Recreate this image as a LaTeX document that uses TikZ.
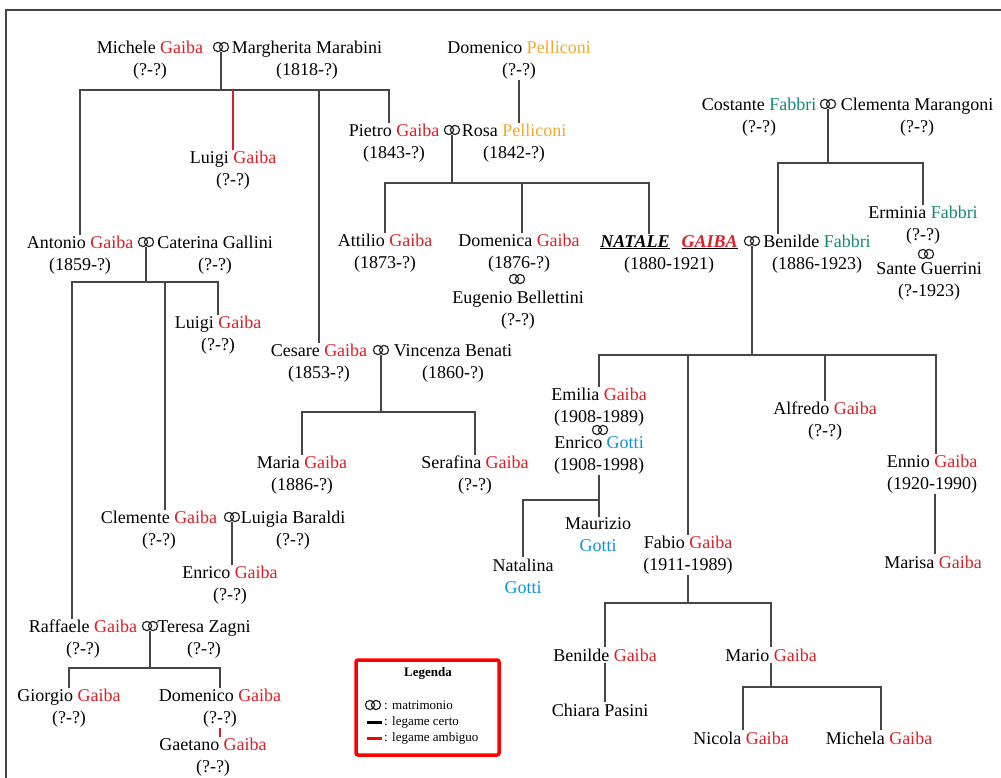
\documentclass[tikz,border=0pt]{standalone}
\usepackage{fontspec}
\setmainfont{Liberation Serif}
\usepackage{xcolor}
\usepackage{tikz}
\usetikzlibrary{positioning}
\definecolor{cgaiba}{RGB}{218,32,40}
\definecolor{cpelliconi}{RGB}{243,168,46}
\definecolor{cfabbri}{RGB}{22,136,118}
\definecolor{cgotti}{RGB}{16,146,214}
\definecolor{linea}{RGB}{70,70,70}
\newcommand{\Gaiba}{\textcolor{cgaiba}{Gaiba}}
\newcommand{\Pelliconi}{\textcolor{cpelliconi}{Pelliconi}}
\newcommand{\Fabbri}{\textcolor{cfabbri}{Fabbri}}
\newcommand{\Gotti}{\textcolor{cgotti}{Gotti}}
% simbolo del matrimonio: nodo vuoto + due anelli
\newcommand{\anelli}[2]{%
  \node[coppia] (#1) at (#2) {};
  \draw[anello] ([xshift=-3pt]#1.center) circle (4.6pt)
                ([xshift=3pt]#1.center) circle (4.6pt);}

\begin{document}
\begin{tikzpicture}[
  x=1pt, y=-1pt,
  font=\fontsize{18}{22}\selectfont,
  persona/.style={align=center, inner sep=1pt},
  coppia/.style={inner sep=0pt, minimum width=16pt, minimum height=10pt},
  anello/.style={draw=black!85, line width=1.2pt},
  legame/.style={draw=linea, line width=1.4pt},
  ambiguo/.style={draw=cgaiba, line width=1.1pt},
  voce/.style={font=\fontsize{13}{15}\selectfont, anchor=west, inner sep=0pt},
]
\useasboundingbox (0,0) rectangle (1001,778);
\draw[linea, line width=1.5pt] (1001,10) -- (6,10) -- (6,778);
% --- Prima generazione ------------------------------------------------------
\node[persona] (michele) at (150,60) {Michele \Gaiba\\(?-?)};
\anelli{m1}{221,47}
\node[persona] (margherita) at (307,60) {Margherita Marabini\\(1818-?)};
\node[persona] (domenicoP) at (519,60) {Domenico \Pelliconi\\(?-?)};
\node[persona] (costante) at (759,117) {Costante \Fabbri\\(?-?)};
\anelli{m3}{828,104}
\node[persona] (clementa) at (917,117) {Clementa Marangoni\\(?-?)};
% --- Figli di Michele -------------------------------------------------------
\node[persona] (pietro) at (394,143) {Pietro \Gaiba\\(1843-?)};
\anelli{m2}{452,130}
\node[persona] (rosa) at (514,143) {Rosa \Pelliconi\\(1842-?)};
\node[persona] (luigiA) at (233,170) {Luigi \Gaiba\\(?-?)};
\node[persona] (antonio) at (80,255) {Antonio \Gaiba\\(1859-?)};
\anelli{m4}{146,242}
\node[persona] (caterina) at (215,255) {Caterina Gallini\\(?-?)};
\node[persona] (cesare) at (319,363) {Cesare \Gaiba\\(1853-?)};
\anelli{m8}{381,350}
\node[persona] (vincenza) at (453,363) {Vincenza Benati\\(1860-?)};
% --- Figli di Pietro e dei Fabbri -------------------------------------------
\node[persona] (attilio) at (385,253) {Attilio \Gaiba\\(1873-?)};
\node[persona] (domenica) at (519,253) {Domenica \Gaiba\\(1876-?)};
\anelli{m5}{517,279}
\node[persona] (eugenio) at (518,310) {Eugenio Bellettini\\(?-?)};
\node[persona] (natale) at (669,254)
  {\underline{\textbf{\textit{NATALE}}}\hspace{12pt}%
   \underline{\textbf{\textit{\textcolor{cgaiba}{GAIBA}}}}\\(1880-1921)};
\anelli{m6}{752,241}
\node[persona] (benildeF) at (817,254) {Benilde \Fabbri\\(1886-1923)};
\node[persona] (erminia) at (923,225) {Erminia \Fabbri\\(?-?)};
\anelli{m7}{926,254}
\node[persona] (sante) at (929,281) {Sante Guerrini\\(?-1923)};
% --- Figli di Antonio e di Cesare -------------------------------------------
\node[persona] (luigiB) at (218,335) {Luigi \Gaiba\\(?-?)};
\node[persona] (clemente) at (159,530) {Clemente \Gaiba\\(?-?)};
\anelli{m10}{232,517}
\node[persona] (luigia) at (293,530) {Luigia Baraldi\\(?-?)};
\node[persona] (enricoGa) at (230,585) {Enrico \Gaiba\\(?-?)};
\node[persona] (raffaele) at (83,639) {Raffaele \Gaiba\\(?-?)};
\anelli{m11}{150,626}
\node[persona] (teresa) at (204,639) {Teresa Zagni\\(?-?)};
\node[persona] (giorgio) at (69,708) {Giorgio \Gaiba\\(?-?)};
\node[persona] (domenicoG) at (220,708) {Domenico \Gaiba\\(?-?)};
\node[persona] (gaetano) at (213,757) {Gaetano \Gaiba\\(?-?)};
\node[persona] (maria) at (302,475) {Maria \Gaiba\\(1886-?)};
\node[persona] (serafina) at (475,475) {Serafina \Gaiba\\(?-?)};
% --- Figli di Natale --------------------------------------------------------
\node[persona] (emilia) at (599,407) {Emilia \Gaiba\\(1908-1989)};
\anelli{m9}{600,430}
\node[persona] (enricoG) at (599,455) {Enrico \Gotti\\(1908-1998)};
\node[persona] (maurizio) at (598,535) {Maurizio\\\Gotti};
\node[persona] (natalina) at (523,576) {Natalina\\\Gotti};
\node[persona] (alfredo) at (825,421) {Alfredo \Gaiba\\(?-?)};
\node[persona] (ennio) at (932,474) {Ennio \Gaiba\\(1920-1990)};
\node[persona] (marisa) at (933,562) {Marisa \Gaiba};
\node[persona] (fabio) at (688,555) {Fabio \Gaiba\\(1911-1989)};
\node[persona] (benildeG) at (605,655) {Benilde \Gaiba};
\node[persona] (chiara) at (600,710) {Chiara Pasini};
\node[persona] (mario) at (771,655) {Mario \Gaiba};
\node[persona] (nicola) at (741,738) {Nicola \Gaiba};
\node[persona] (michela) at (879,738) {Michela \Gaiba};
% --- Legami -----------------------------------------------------------------
\coordinate (b1) at (m1 |- 0,90);
\draw[legame] (m1.south) -- (b1);
\draw[legame] (b1) -| (antonio.north);
\draw[legame] (b1) -| (cesare.north);
\draw[legame] (b1) -| ([xshift=-5pt]pietro.north);
\draw[ambiguo] (b1 -| luigiA.north) -- (luigiA.north);
\draw[legame] (domenicoP.south) -- (domenicoP.south |- rosa.north);
\coordinate (b2) at (m2 |- 0,183);
\draw[legame] (m2.south) -- (b2);
\draw[legame] (b2) -| (attilio.north);
\draw[legame] (b2) -| ([xshift=3pt]domenica.north);
\draw[legame] (b2) -| ([xshift=-20pt]natale.north);
\coordinate (b3) at (m3 |- 0,163);
\draw[legame] (m3.south) -- (b3);
\draw[legame] (b3) -| ([xshift=-39pt]benildeF.north);
\draw[legame] (b3) -| (erminia.north);
\coordinate (b4) at (m4 |- 0,282);
\draw[legame] (m4.south) -- (b4);
\draw[legame] (b4) -| ([xshift=-11pt]raffaele.north);
\draw[legame] (b4) -| ([xshift=6pt]clemente.north);
\draw[legame] (b4) -| (luigiB.north);
\coordinate (b8) at (m8 |- 0,412);
\draw[legame] (m8.south) -- (b8);
\draw[legame] (b8) -| (maria.north);
\draw[legame] (b8) -| (serafina.north);
\draw[legame] (m10.south) -- (m10 |- enricoGa.north);
\coordinate (b11) at (m11 |- 0,668);
\draw[legame] (m11.south) -- (b11);
\draw[legame] (b11) -| (giorgio.north);
\draw[legame] (b11) -| (domenicoG.north);
\draw[ambiguo] (domenicoG.south) -- (domenicoG.south |- gaetano.north);
\coordinate (b6) at (m6 |- 0,355);
\draw[legame] (m6.south) -- (b6);
\draw[legame] (b6) -| (emilia.north);
\draw[legame] (b6) -| (fabio.north);
\draw[legame] (b6) -| (alfredo.north);
\draw[legame] (b6) -| ([xshift=4pt]ennio.north);
\coordinate (b9) at (enricoG.south |- 0,500);
\draw[legame] (enricoG.south) -- (b9) -- (b9 |- maurizio.north);
\draw[legame] (b9) -| (natalina.north);
\draw[legame] ([xshift=3pt]ennio.south) -- ([xshift=3pt]ennio.south |- marisa.north);
\coordinate (bf) at (fabio.south |- 0,603);
\draw[legame] (fabio.south) -- (bf);
\draw[legame] (bf) -| (benildeG.north);
\draw[legame] (bf) -| (mario.north);
\draw[legame] (benildeG.south) -- (benildeG.south |- chiara.north);
\coordinate (bm) at (mario.south |- 0,687);
\draw[legame] (mario.south) -- (bm);
\draw[legame] (bm) -| ([xshift=2pt]nicola.north);
\draw[legame] (bm) -| ([xshift=2pt]michela.north);
% --- Legenda ----------------------------------------------------------------
\node[draw=red, line width=3.5pt, rounded corners=2pt, minimum width=143pt,
      minimum height=95pt] (legenda) at (427.5,707.5) {};
\node[font=\bfseries\fontsize{13}{15}\selectfont] (titolo) at (428,673) {Legenda};
\anelli{lm}{373,705}
\node[voce] (vm) at (384,705) {: matrimonio};
\draw[black, line width=3pt] (367,722) -- (382,722);
\node[voce] (vc) at (384,722) {: legame certo};
\draw[red, line width=3pt] (367,738) -- (382,738);
\node[voce] (va) at (384,738) {: legame ambiguo};
\end{tikzpicture}
\end{document}
